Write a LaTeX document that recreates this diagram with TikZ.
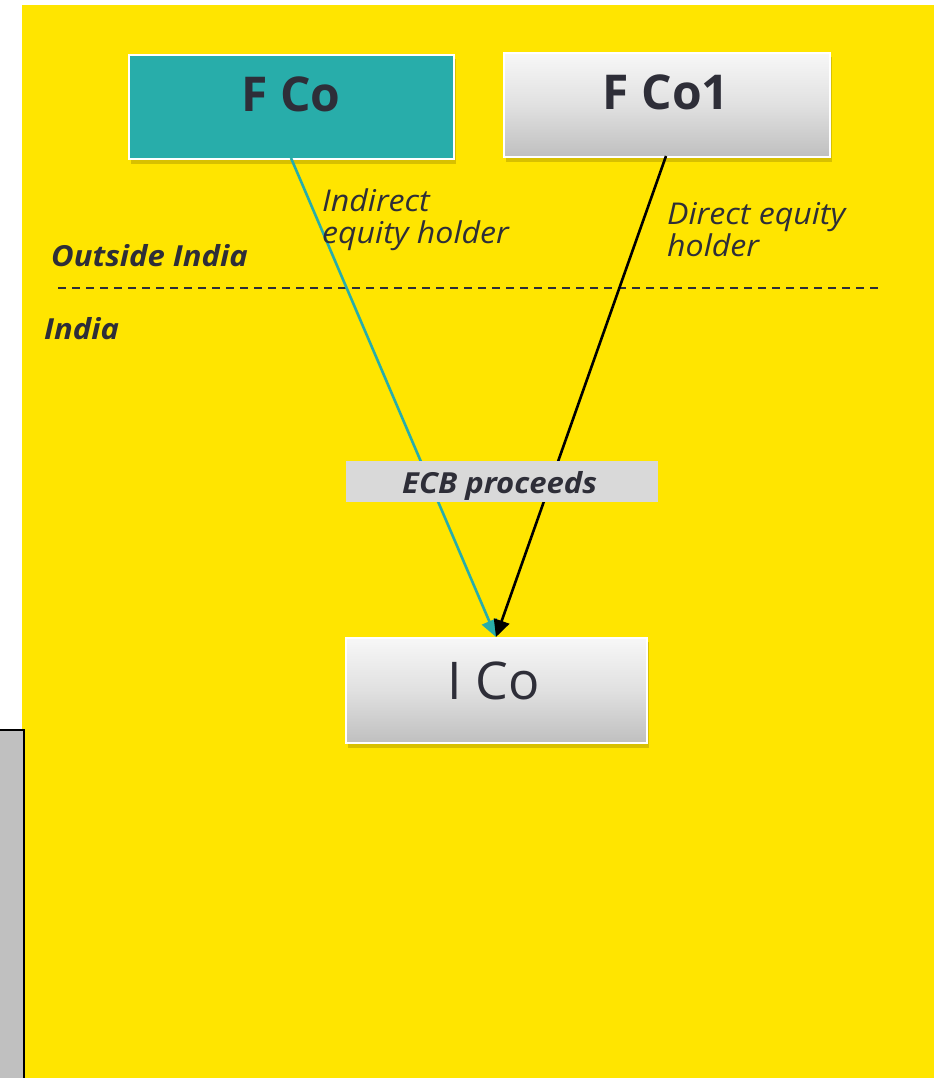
\documentclass[tikz,border=0pt]{standalone}
\usepackage{fontspec}
\setmainfont{Open Sans}
\newfontfamily\widefont[FakeStretch=1.07]{Open Sans}
\usetikzlibrary{arrows.meta}
\definecolor{bgyellow}{HTML}{FFE500}
\definecolor{teal}{HTML}{28ADAA}
\definecolor{ink}{HTML}{2E2E38}
\definecolor{shadowy}{HTML}{B8A300}
\definecolor{labelgray}{HTML}{D9D9D9}
\definecolor{sidegray}{HTML}{C0C0C0}
\tikzset{
  company/.style={draw=white, line width=1.8pt, minimum width=#1, text=ink, inner sep=0pt},
  graybox/.style={top color=white!97!black, bottom color=black!25, middle color=black!12},
  boxshadow/.style={fill=shadowy, opacity=0.55},
  title/.style={text=ink, font=\bfseries\fontsize{48}{50}\selectfont},
  note/.style={text=ink, font=\widefont\itshape\fontsize{30}{32}\selectfont, align=left, anchor=base west, inner sep=0pt},
  region/.style={text=ink, font=\widefont\bfseries\itshape\fontsize{29}{30}\selectfont, anchor=base west, inner sep=0pt},
  link/.style={line width=2.6pt, -{Triangle[length=17pt,width=16pt]}}
}
\begin{document}
\begin{tikzpicture}[x=1pt,y=-1pt]
  \useasboundingbox (0,0) rectangle (934,1078);
  % page background
  \fill[white] (0,0) rectangle (934,1078);
  \fill[bgyellow] (22,5) rectangle (934,1078);
  % side panel
  \fill[sidegray] (0,730) rectangle (24,1078);
  \draw[black, line width=2pt] (0,730) -- (24,730) -- (24,1078);

  % box shadows
  \fill[boxshadow] (131,59) rectangle (456,164);
  \fill[boxshadow] (506,57) rectangle (832,162);
  \fill[boxshadow] (348,642) rectangle (649,748);

  % companies
  \node[company=325pt, minimum height=104pt, fill=teal, anchor=north west]
        (fco) at (128,54) {};
  \node[title] (fcot) at (291,94) {F Co};
  \node[company=326pt, minimum height=104pt, graybox, anchor=north west]
        (fco1) at (503,52) {};
  \node[title] (fco1t) at (666,92) {F Co1};
  \node[company=301pt, minimum height=105pt, graybox, anchor=north west]
        (ico) at (345,637) {};
  \node[text=ink, font=\fontsize{52}{54}\selectfont] (icot) at (494,681) {I Co};

  % boundary between the two jurisdictions
  \coordinate (dl) at (58,288);
  \coordinate (dr) at (878,288);
  \draw[ink, line width=1.5pt, dash pattern=on 8pt off 6pt] (dl) -- (dr);
  \node[region] (out) at (51,266) {Outside India};
  \node[region] (ind) at (44,339) {India};

  % holdings
  \coordinate (fcobot) at (291,158);
  \coordinate (fco1bot) at (666,156);
  \coordinate (icotop) at (496,637);
  \draw[link, teal] (fcobot) -- (icotop);
  \draw[link, black] (fco1bot) -- (icotop);

  \node[note] (indirect) at (322,243) {Indirect\\equity holder};
  \node[note] (direct) at (667,256) {Direct equity\\holder};

  % ECB proceeds label
  \node[fill=labelgray, minimum width=312pt, minimum height=41pt, inner sep=0pt,
        anchor=north west] (ecb) at (346,461) {};
  \node[text=ink, font=\widefont\bfseries\itshape\fontsize{29}{30}\selectfont,
        anchor=base west, inner sep=0pt] (ecbt) at (402,493) {ECB proceeds};
\end{tikzpicture}
\end{document}
